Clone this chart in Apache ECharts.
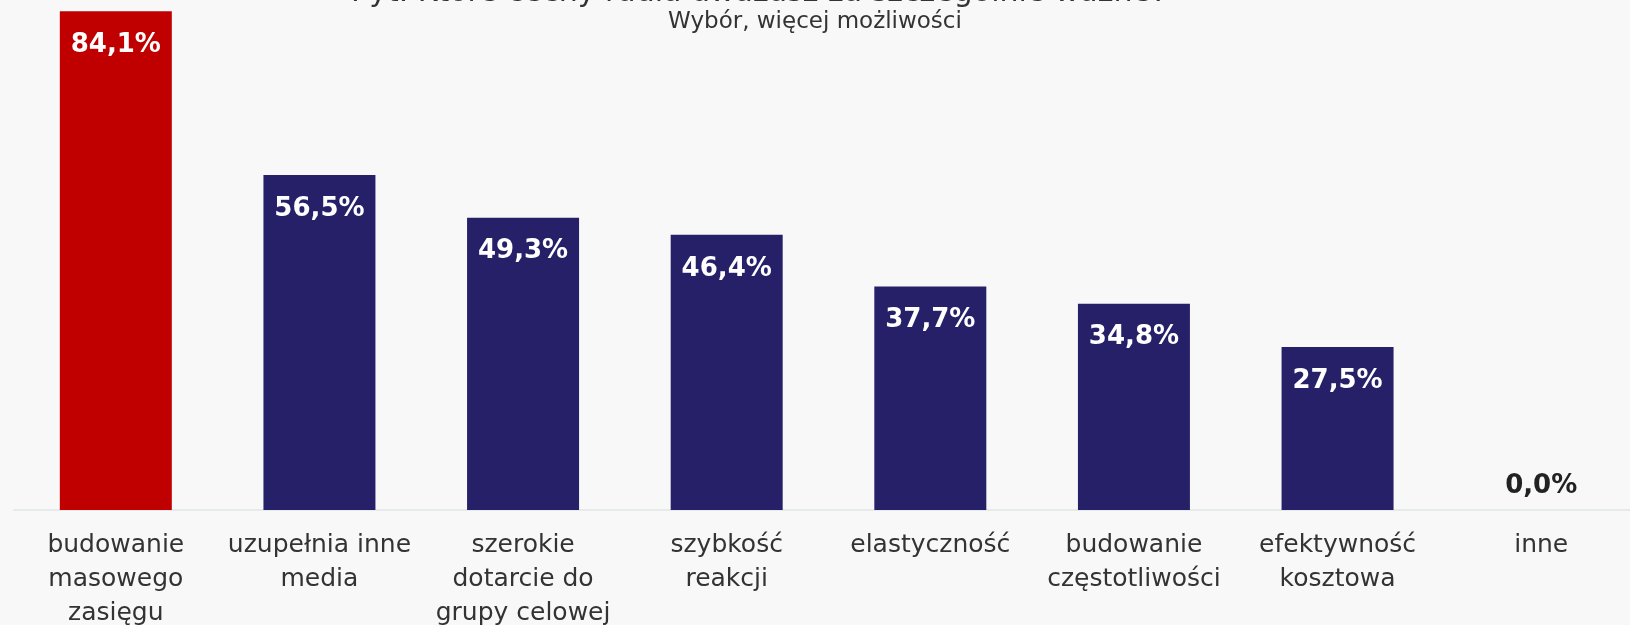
<!DOCTYPE html>
<html>
<head>
<meta charset="utf-8">
<script src="https://cdn.jsdelivr.net/npm/echarts@6/dist/echarts.min.js"></script>
<style>
  html, body { margin: 0; padding: 0; background: #f8f8f8; }
  #chart { width: 1630px; height: 625px; }
</style>
</head>
<body>
<div id="chart"></div>
<script>
// Survey question, answer note and results
const titleText = 'Pyt. Które cechy radia uważasz za szczególnie ważne?';
const subtitleText = 'Wybór, więcej możliwości';

const categories = [
  'budowanie\nmasowego\nzasięgu',
  'uzupełnia inne\nmedia',
  'szerokie\ndotarcie do\ngrupy celowej',
  'szybkość\nreakcji',
  'elastyczność',
  'budowanie\nczęstotliwości',
  'efektywność\nkosztowa',
  'inne'
];
const values = [84.1, 56.5, 49.3, 46.4, 37.7, 34.8, 27.5, 0.0];

const highlightColor = '#c00000';
const barColor = '#262069';
const textFont = 'DejaVu Sans';

const fmt = v => v.toFixed(1).replace('.', ',') + '%';

const seriesData = values.map((v, i) => {
  const item = {
    value: v,
    itemStyle: { color: i === 0 ? highlightColor : barColor }
  };
  if (v === 0) {
    item.label = { position: 'top', color: '#222', distance: 11 };
  }
  return item;
});

const chart = echarts.init(document.getElementById('chart'), null, { renderer: 'canvas' });
chart.setOption({
  backgroundColor: '#f8f8f8',
  animation: false,
  graphic: [
    {
      type: 'text',
      x: 759, y: 8,
      style: {
        text: titleText,
        fontFamily: textFont,
        fontSize: 30,
        fill: '#333',
        align: 'center',
        verticalAlign: 'bottom'
      }
    },
    {
      type: 'text',
      x: 815, y: 22,
      style: {
        text: subtitleText,
        fontFamily: textFont,
        fontSize: 23,
        fill: '#333',
        align: 'center',
        verticalAlign: 'middle'
      }
    }
  ],
  grid: { left: 14, right: -13, top: 0, bottom: 115, outerBoundsMode: 'none', containLabel: false },
  xAxis: {
    type: 'category',
    data: categories,
    axisLine: { show: true, lineStyle: { color: '#e6eaea', width: 2 } },
    axisTick: { show: false },
    axisLabel: {
      interval: 0,
      margin: 18,
      fontFamily: textFont,
      fontSize: 25,
      lineHeight: 34,
      color: '#333'
    }
  },
  yAxis: {
    type: 'value',
    min: 0,
    max: 86,
    show: false,
    splitLine: { show: false }
  },
  series: [{
    type: 'bar',
    data: seriesData,
    barWidth: '55%',
    label: {
      show: true,
      position: 'insideTop',
      distance: 21,
      color: '#fff',
      fontFamily: textFont,
      fontWeight: 'bold',
      fontSize: 26,
      formatter: p => fmt(p.value)
    }
  }]
});
</script>
</body>
</html>
